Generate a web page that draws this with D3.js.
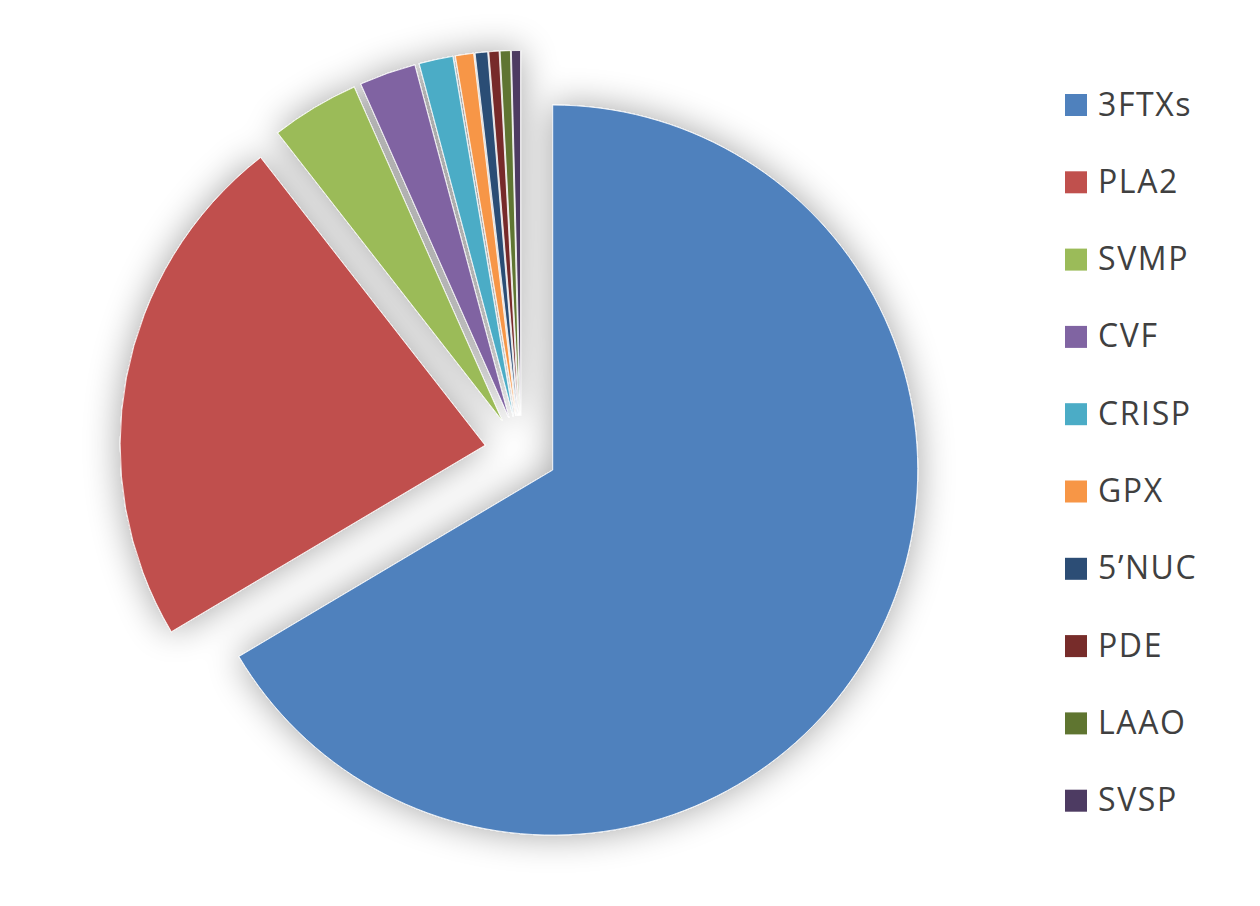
<!DOCTYPE html>
<meta charset='utf-8'>
<script src='https://d3js.org/d3.v7.min.js'></script>
<style>
  body { margin: 0; background: #fff; }
</style>
<body>
<script>
var categories = ['3FTXs', 'PLA2', 'SVMP', 'CVF', 'CRISP', 'GPX', '5\u2019NUC', 'PDE', 'LAAO', 'SVSP'];
var values = [66.5, 23.0, 3.9, 2.5, 1.5, 0.8, 0.55, 0.45, 0.45, 0.4];
var colors = ['#4F81BD', '#C0504D', '#9BBB59', '#8064A2', '#4BACC6', '#F79646', '#2C4D75', '#772C2A', '#5F7530', '#4D3B62'];

var width = 1260,
    height = 906;

var cx = 521, cy = 452,
    radius = 365,
    explode = 36.5;

var svg = d3.select('body').append('svg').attr('width', width).attr('height', height);

// soft shadow behind the slices
var filter = svg.append('defs').append('filter')
    .attr('id', 'shadow')
    .attr('x', '-25%').attr('y', '-25%').attr('width', '150%').attr('height', '150%');
filter.append('feGaussianBlur').attr('in', 'SourceAlpha').attr('stdDeviation', 18).attr('result', 'blur');
filter.append('feComponentTransfer').attr('in', 'blur').attr('result', 'shade')
  .append('feFuncA').attr('type', 'linear').attr('slope', 0.36);
var merge = filter.append('feMerge');
merge.append('feMergeNode').attr('in', 'shade');
merge.append('feMergeNode').attr('in', 'SourceGraphic');

var data = categories.map(function(c, i) { return {name: c, value: values[i], color: colors[i]}; });

var pie = d3.pie().sort(null).value(function(d) { return d.value; });
var arc = d3.arc().innerRadius(0).outerRadius(radius);

var g = svg.append('g')
    .attr('transform', 'translate(' + cx + ',' + cy + ')')
    .attr('filter', 'url(#shadow)');

g.selectAll('path')
  .data(pie(data))
  .enter().append('path')
    .attr('d', arc)
    .attr('fill', function(d) { return d.data.color; })
    .attr('stroke', '#fff')
    .attr('stroke-width', 0.8)
    .attr('stroke-linejoin', 'round')
    .attr('transform', function(d) {
      var a = (d.startAngle + d.endAngle) / 2;
      return 'translate(' + (Math.sin(a) * explode) + ',' + (-Math.cos(a) * explode) + ')';
    });

// legend
var legend = svg.append('g').attr('transform', 'translate(1065,94)');
var item = legend.selectAll('.item')
  .data(data)
  .enter().append('g')
    .attr('class', 'item')
    .attr('transform', function(d, i) { return 'translate(0,' + (i * 77.3) + ')'; });

item.append('rect')
    .attr('width', 22).attr('height', 22)
    .attr('fill', function(d) { return d.color; });

item.append('text')
    .attr('x', 33)
    .attr('y', 10)
    .attr('dy', '0.36em')
    .attr('font-family', '"Open Sans", sans-serif')
    .attr('font-size', 32)
    .attr('letter-spacing', 1.6)
    .attr('fill', '#404040')
    .text(function(d) { return d.name; });
</script>
